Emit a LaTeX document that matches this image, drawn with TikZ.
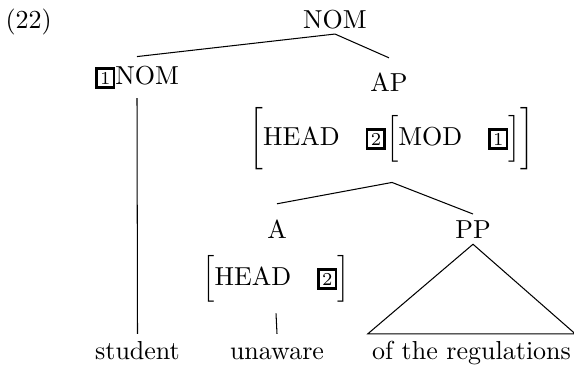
\documentclass[tikz,border=0pt]{standalone}
\newcommand{\tg}[1]{{\setlength{\fboxsep}{0.9pt}\setlength{\fboxrule}{1pt}\fbox{\scriptsize #1}}}
\begin{document}
\begin{tikzpicture}[x=0.384615pt,y=-0.384615pt,
  lbl/.style={anchor=base,inner sep=0pt},
  leaf/.style={anchor=base,inner sep=2.5pt,text height=6.94pt,text depth=1.94pt},
  edge/.style={line width=0.4pt}]
\useasboundingbox (0,0) rectangle (574,365);
\node[lbl,anchor=base west] (ex) at (5,28) {(22)};
\node[lbl,inner sep=1.9pt] (top) at (335,28) {NOM};
\node[lbl,inner sep=3.3pt] (nom) at (137,84) {\tg{1}NOM};
\node[lbl] (ap) at (389,91) {AP};
\node[lbl,text height=14.5pt,text depth=9.5pt] (avm1) at (392,145) {$\biggl[\mbox{HEAD}\quad\tg{2}\Bigl[\mbox{MOD}\quad\tg{1}\Bigr]\biggr]$};
\node[lbl,inner sep=5.8pt] (a) at (277,238) {A};
\node[lbl,inner sep=2.2pt] (pp) at (473,238) {PP};
\node[lbl,inner sep=4.2pt] (avm2) at (276,285) {$\Bigl[\mbox{HEAD}\quad\tg{2}\Bigr]$};
\node[leaf] (student) at (137.5,359) {student};
\node[leaf] (unaware) at (277,359) {unaware};
\node[leaf,inner xsep=1.5pt] (regs) at (471.5,359) {of the regulations};
\draw[edge] (top.south) -- (nom.north);
\draw[edge] (top.south) -- ([yshift=5.4pt]ap.north);
\draw[edge] (nom.south) -- (student.north);
\draw[edge] ([yshift=-4.7pt]avm1.south) -- (a.north);
\draw[edge] ([yshift=-4.7pt]avm1.south) -- (pp.north);
\draw[edge] (avm2.south) -- (unaware.north);
\draw[edge] (pp.south) -- (regs.north west) -- (regs.north east) -- cycle;
\end{tikzpicture}
\end{document}
